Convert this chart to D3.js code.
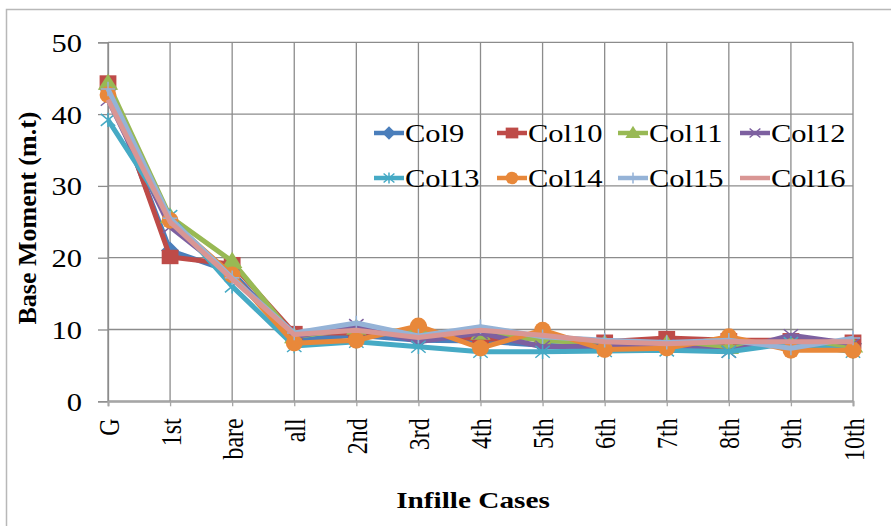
<!DOCTYPE html>
<html>
<head>
<meta charset="utf-8">
<script src="https://cdn.jsdelivr.net/npm/d3@7"></script>
<style>
  html, body { margin: 0; padding: 0; background: #fff; }
  svg { display: block; }
  text { font-family: "Liberation Serif", "Times New Roman", serif; fill: #000; }
</style>
</head>
<body>
<svg id="chart" width="891" height="526"></svg>
<script>
// ---- Data ----
const categories = ["G", "1st", "bare", "all", "2nd", "3rd", "4th", "5th", "6th", "7th", "8th", "9th", "10th"];
const seriesNames = ["Col9", "Col10", "Col11", "Col12", "Col13", "Col14", "Col15", "Col16"];
const col9  = [43.5, 21.0, 18.0, 8.5, 9.2, 8.5, 8.4, 7.8, 7.5, 7.5, 8.0, 8.0, 8.0];
const col10 = [44.4, 20.1, 19.1, 9.5, 9.5, 9.7, 8.6, 9.0, 8.3, 8.8, 8.5, 8.5, 8.3];
const col11 = [44.3, 25.7, 19.5, 9.0, 10.2, 9.5, 9.5, 8.5, 8.0, 8.0, 7.5, 8.0, 7.7];
const col12 = [42.0, 24.3, 17.5, 9.0, 10.6, 8.3, 9.5, 7.6, 7.7, 7.8, 6.9, 9.2, 8.0];
const col13 = [39.2, 25.8, 16.0, 7.7, 8.3, 7.6, 6.9, 6.9, 7.0, 7.1, 6.9, 8.1, 6.9];
const col14 = [42.7, 25.2, 17.6, 8.1, 8.5, 10.5, 7.4, 9.9, 7.2, 7.4, 9.0, 7.1, 7.1];
const col15 = [43.5, 25.5, 17.2, 9.5, 10.9, 9.1, 10.4, 9.0, 8.5, 8.2, 8.5, 7.4, 8.8];
const col16 = [42.0, 25.0, 17.0, 9.3, 9.9, 8.9, 9.9, 9.2, 8.3, 8.0, 8.3, 8.3, 8.3];
const seriesValues = [col9, col10, col11, col12, col13, col14, col15, col16];
const yTicks = [0, 10, 20, 30, 40, 50];
const yTitle = "Base Moment (m.t)";
const xTitle = "Infille Cases";

// ---- Styles ----
const colors = ["#4A7EBB", "#BE4B48", "#98B954", "#7D60A0", "#46AAC5", "#E8883A", "#95B3D7", "#D99694"];
const markers = ["diamond", "square", "triangle", "x", "asterisk", "circle", "plus", "none"];
const SX = 1.22; // horizontal stretch of text as in the reference

const svg = d3.select("#chart");

// outer chart border
svg.append("path")
  .attr("d", "M6.5,526 L6.5,9.5 L891,9.5")
  .attr("fill", "none").attr("stroke", "#b8b8b8").attr("stroke-width", 1.5);

const x = d3.scalePoint().domain(categories).range([108, 853]);
const y = d3.scaleLinear().domain([0, 50]).range([401.3, 42.3]);

// gridlines
const grid = svg.append("g");
grid.selectAll("line.h").data(yTicks).join("line")
  .attr("x1", 108).attr("x2", 853)
  .attr("y1", d => y(d)).attr("y2", d => y(d))
  .attr("stroke", d => d === 0 ? "#a6a6a6" : "#8c8c8c").attr("stroke-width", d => d === 0 ? 2 : 1.3);
grid.selectAll("line.v").data(categories).join("line")
  .attr("x1", d => x(d)).attr("x2", d => x(d))
  .attr("y1", y(50)).attr("y2", y(0))
  .attr("stroke", "#8c8c8c").attr("stroke-width", 1.3);

// y axis
const yAxis = svg.append("g").attr("transform", "translate(108,0)")
  .call(d3.axisLeft(y).tickValues(yTicks).tickSize(10).tickPadding(26).tickFormat(d3.format("d")));
yAxis.select(".domain").attr("stroke", "#8c8c8c").attr("stroke-width", 1.3);
yAxis.selectAll(".tick line").attr("stroke", "#8c8c8c").attr("stroke-width", 1.3);
yAxis.selectAll(".tick text").remove();
yAxis.selectAll(".tick").append("text")
  .attr("transform", "translate(-26,9) scale(" + SX + ",1)")
  .attr("text-anchor", "end")
  .style("font-size", "25px")
  .text(d => d);

// x axis
const xAxis = svg.append("g").attr("transform", "translate(0," + y(0) + ")")
  .call(d3.axisBottom(x).tickSize(5).tickFormat(""));
xAxis.select(".domain").attr("stroke", "#a6a6a6").attr("stroke-width", 2);
xAxis.selectAll(".tick line").attr("stroke", "#a6a6a6").attr("stroke-width", 1.3);
xAxis.selectAll(".tick").append("text")
  .attr("transform", "translate(10,17) scale(" + SX + ",1) rotate(-90)")
  .attr("text-anchor", "end")
  .style("font-size", "24px")
  .text(d => d);

// axis titles
svg.append("text")
  .attr("transform", "translate(36,218) rotate(-90)")
  .attr("text-anchor", "middle")
  .style("font-size", "26px").style("font-weight", "bold")
  .text(yTitle);
svg.append("text")
  .attr("transform", "translate(473,508) scale(" + SX + ",1)")
  .attr("text-anchor", "middle")
  .style("font-size", "24px").style("font-weight", "bold")
  .text(xTitle);

// marker path factory
function markerPath(type, s) {
  switch (type) {
    case "diamond": return `M0,${-s*0.75}L${s*0.75},0L0,${s*0.75}L${-s*0.75},0Z`;
    case "square": return `M${-s*0.7},${-s*0.6}H${s*0.7}V${s*0.6}H${-s*0.7}Z`;
    case "triangle": return `M0,${-s*0.8}L${s*0.85},${s*0.55}L${-s*0.85},${s*0.55}Z`;
    case "circle": return d3.symbol(d3.symbolCircle, Math.PI * (s*0.7) * (s*0.7))();
    case "x": return `M${-s*0.6},${-s*0.5}L${s*0.6},${s*0.5}M${-s*0.6},${s*0.5}L${s*0.6},${-s*0.5}`;
    case "asterisk": return `M${-s*0.6},${-s*0.5}L${s*0.6},${s*0.5}M${-s*0.6},${s*0.5}L${s*0.6},${-s*0.5}M0,${-s*0.6}V${s*0.6}`;
    case "plus": return `M${-s*0.6},0H${s*0.6}M0,${-s*0.6}V${s*0.6}`;
    default: return "";
  }
}
const filled = t => ["diamond", "square", "triangle", "circle"].includes(t);

// series
const line = d3.line().x((d, i) => x(categories[i])).y(d => y(d));
const plot = svg.append("g");
seriesValues.forEach((vals, si) => {
  const g = plot.append("g");
  g.append("path").datum(vals)
    .attr("d", line).attr("fill", "none")
    .attr("stroke", colors[si]).attr("stroke-width", 5)
    .attr("stroke-linejoin", "round");
  if (markers[si] !== "none") {
    g.selectAll("path.m").data(vals).join("path")
      .attr("class", "m")
      .attr("transform", (d, i) => `translate(${x(categories[i])},${y(d)})`)
      .attr("d", markerPath(markers[si], 12))
      .attr("fill", filled(markers[si]) ? colors[si] : "none")
      .attr("stroke", colors[si])
      .attr("stroke-width", filled(markers[si]) ? 0 : 1.5);
  }
});

// legend
const legX0 = [374, 497, 618, 740];
const legY0 = [133, 178];
const legend = svg.append("g");
seriesNames.forEach((name, i) => {
  const lx = legX0[i % 4], ly = legY0[Math.floor(i / 4)];
  const g = legend.append("g").attr("transform", `translate(${lx},${ly})`);
  g.append("line").attr("x1", 0).attr("x2", 30).attr("y1", 0).attr("y2", 0)
    .attr("stroke", colors[i]).attr("stroke-width", 4.5);
  if (markers[i] !== "none") {
    g.append("path").attr("transform", "translate(15,0)")
      .attr("d", markerPath(markers[i], 9))
      .attr("fill", filled(markers[i]) ? colors[i] : "none")
      .attr("stroke", colors[i]).attr("stroke-width", filled(markers[i]) ? 0 : 1.5);
  }
  g.append("text")
    .attr("transform", `translate(31,9) scale(${SX},1)`)
    .style("font-size", "25px")
    .text(name);
});
</script>
</body>
</html>
